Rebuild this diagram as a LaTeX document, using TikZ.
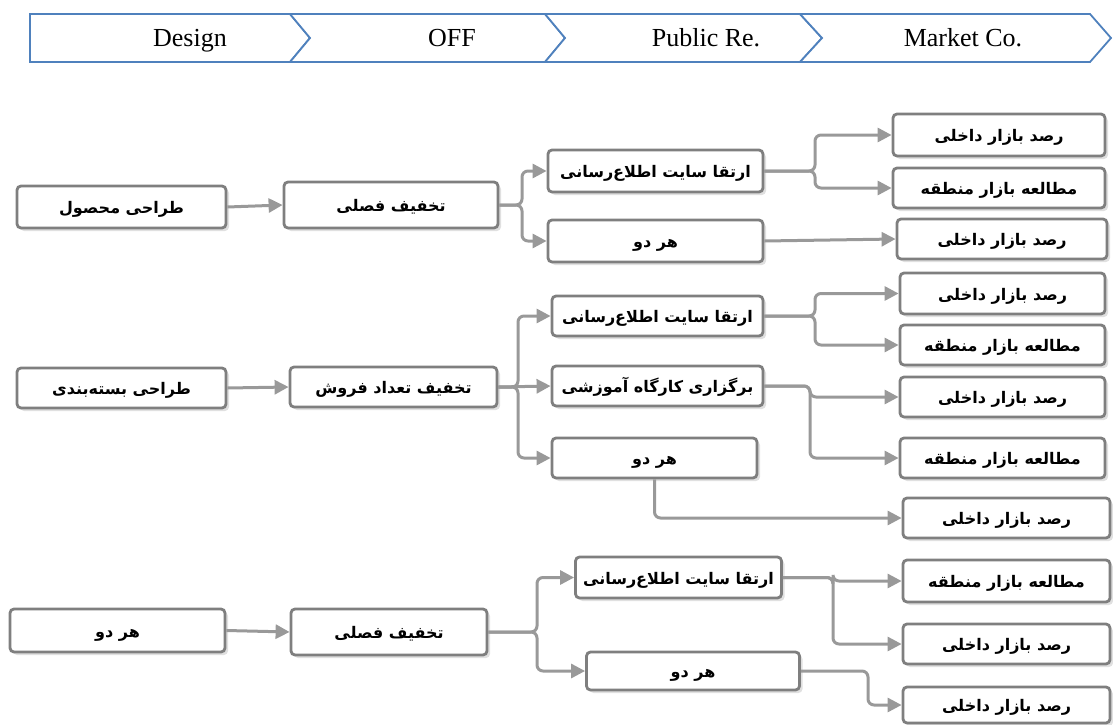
\documentclass[tikz,border=0pt]{standalone}
\usepackage{fontspec}
\setmainfont{Liberation Serif}
\newfontfamily\fa[Script=Arabic]{DejaVu Sans}
\TeXXeTstate=1
\usetikzlibrary{arrows.meta,shadows,calc}
\definecolor{boxline}{HTML}{7F7F7F}
\definecolor{linkline}{HTML}{999999}
\definecolor{barblue}{HTML}{4F81BD}
\begin{document}
\begin{tikzpicture}[x=1pt,y=-1pt,
  box/.style={draw=boxline, line width=2.8pt, rounded corners=4pt, fill=white,
    inner sep=0pt, text height=14pt, text depth=1pt,
    font=\fa\bfseries\fontsize{16}{18}\selectfont,
    drop shadow={shadow xshift=3pt, shadow yshift=-3pt, opacity=0.3, fill=black!40}},
  link/.style={draw=linkline, line width=3pt, rounded corners=6pt,
    -{Triangle[length=14pt,width=14pt]}},
  bar/.style={draw=barblue, line width=1.8pt, line join=miter, fill=white},
  head/.style={anchor=base, inner sep=0pt, font=\fontsize{26}{28}\selectfont}]
\useasboundingbox (0,0) rectangle (1113,725);

% ---- header chevrons ----
\draw[bar] (30,14) -- (290,14) -- (310,38) -- (290,62) -- (30,62) -- cycle;
\draw[bar] (290,14) -- (545,14) -- (565,38) -- (545,62) -- (290,62) -- (310,38) -- cycle;
\draw[bar] (545,14) -- (800,14) -- (822,38) -- (800,62) -- (545,62) -- (565,38) -- cycle;
\draw[bar] (800,14) -- (1090,14) -- (1111,38) -- (1090,62) -- (800,62) -- (822,38) -- cycle;
\node[head] (h1) at (190,47) {Design};
\node[head] (h2) at (452,47) {OFF};
\node[head] (h3) at (706,47) {Public Re.};
\node[head] (h4) at (963,47) {Market Co.};

% ---- first row ----
\node[box, minimum width=209pt, minimum height=42pt] (A1) at (121.5,207) {\beginR طراحی محصول\endR};
\node[box, minimum width=214pt, minimum height=46pt] (B1) at (391,205) {\beginR تخفیف فصلی\endR};
\node[box, minimum width=215pt, minimum height=42pt] (C1a) at (655.5,171) {\beginR ارتقا سایت اطلاع‌رسانی\endR};
\node[box, minimum width=215pt, minimum height=42pt] (C1b) at (655.5,241) {\beginR هر دو\endR};
\node[box, minimum width=212pt, minimum height=42pt] (D1a) at (999,135) {\beginR رصد بازار داخلی\endR};
\node[box, minimum width=212pt, minimum height=40pt] (D1b) at (999,188) {\beginR مطالعه بازار منطقه\endR};
\node[box, minimum width=210pt, minimum height=40pt] (D1c) at (1002,239) {\beginR رصد بازار داخلی\endR};

\coordinate (f1) at (522,205);
\coordinate (g1) at (815,171);
\draw[link] (A1.east) -- (B1.west);
\draw[link] (B1.east) -- (f1) |- (C1a.west);
\draw[link] (B1.east) -- (f1) |- (C1b.west);
\draw[link] (C1a.east) -- (g1) |- (D1a.west);
\draw[link] (C1a.east) -- (g1) |- (D1b.west);
\draw[link] (C1b.east) -- (D1c.west);

% ---- second row ----
\node[box, minimum width=209pt, minimum height=40pt] (A2) at (121.5,388) {\beginR طراحی بسته‌بندی\endR};
\node[box, minimum width=207pt, minimum height=40pt] (B2) at (393.5,387) {\beginR تخفیف تعداد فروش\endR};
\node[box, minimum width=211pt, minimum height=40pt] (C2a) at (657.5,316) {\beginR ارتقا سایت اطلاع‌رسانی\endR};
\node[box, minimum width=211pt, minimum height=40pt] (C2b) at (657.5,386) {\beginR برگزاری کارگاه آموزشی\endR};
\node[box, minimum width=205pt, minimum height=40pt] (C2c) at (654.5,458) {\beginR هر دو\endR};
\node[box, minimum width=205pt, minimum height=41pt] (D2a) at (1002.5,293.5) {\beginR رصد بازار داخلی\endR};
\node[box, minimum width=205pt, minimum height=40pt] (D2b) at (1002.5,345) {\beginR مطالعه بازار منطقه\endR};
\node[box, minimum width=205pt, minimum height=40pt] (D2c) at (1002.5,397) {\beginR رصد بازار داخلی\endR};
\node[box, minimum width=205pt, minimum height=40pt] (D2d) at (1002.5,458) {\beginR مطالعه بازار منطقه\endR};
\node[box, minimum width=207pt, minimum height=40pt] (D2e) at (1006.5,518) {\beginR رصد بازار داخلی\endR};

\coordinate (f2) at (518,387);
\coordinate (g2) at (815,316);
\coordinate (k2) at (810,386);
\draw[link] (A2.east) -- (B2.west);
\draw[link] (B2.east) -- (f2) |- (C2a.west);
\draw[link] (B2.east) -- (C2b.west);
\draw[link] (B2.east) -- (f2) |- (C2c.west);
\draw[link] (C2a.east) -- (g2) |- (D2a.west);
\draw[link] (C2a.east) -- (g2) |- (D2b.west);
\draw[link] (C2b.east) -- (k2) |- (D2c.west);
\draw[link] (C2b.east) -- (k2) |- (D2d.west);
\draw[link] (C2c.south) |- (D2e.west);

% ---- third row ----
\node[box, minimum width=215pt, minimum height=43pt] (A3) at (117.5,630.5) {\beginR هر دو\endR};
\node[box, minimum width=196pt, minimum height=46pt] (B3) at (389,632) {\beginR تخفیف فصلی\endR};
\node[box, minimum width=206pt, minimum height=41pt] (C3a) at (678.5,577.5) {\beginR ارتقا سایت اطلاع‌رسانی\endR};
\node[box, minimum width=213pt, minimum height=38pt] (C3b) at (693,671) {\beginR هر دو\endR};
\node[box, minimum width=207pt, minimum height=42pt] (D3a) at (1006.5,581) {\beginR مطالعه بازار منطقه\endR};
\node[box, minimum width=207pt, minimum height=40pt] (D3b) at (1006.5,644) {\beginR رصد بازار داخلی\endR};
\node[box, minimum width=207pt, minimum height=36pt] (D3c) at (1006.5,705) {\beginR رصد بازار داخلی\endR};

\coordinate (f3) at (537,632);
\coordinate (g3) at (833,577.5);
\coordinate (k3) at (868,671);
\draw[link] (A3.east) -- (B3.west);
\draw[link] (B3.east) -- (f3) |- (C3a.west);
\draw[link] (B3.east) -- (f3) |- (C3b.west);
\draw[link] (C3a.east) -- (g3) |- (D3a.west);
\draw[link] (C3a.east) -- (g3) |- (D3b.west);
\draw[link] (C3b.east) -- (k3) |- (D3c.west);
\end{tikzpicture}
\end{document}
